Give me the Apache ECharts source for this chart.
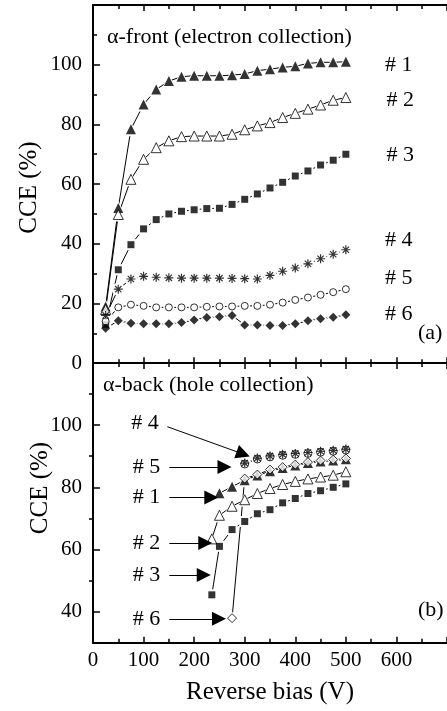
<!DOCTYPE html>
<html>
<head>
<meta charset="utf-8">
<script src="https://cdn.jsdelivr.net/npm/echarts@6/dist/echarts.min.js"></script>
<style>
html,body{margin:0;padding:0;background:#fff}
#main{width:447px;height:711px}
</style>
</head>
<body>
<div id="main"></div>
<script>
// (a) alpha-front, reverse bias (V) vs CCE (%)
var biasFront = [25, 50, 75, 100, 125, 150, 175, 200, 225, 250, 275, 300, 325, 350, 375, 400, 425, 450, 475, 500];
var front1 = [19, 52, 78.4, 86.7, 91.7, 94.5, 96.0, 96.3, 96.3, 96.3, 96.5, 96.9, 98.0, 98.5, 99.1, 99.5, 100.4, 100.8, 100.8, 101.0];
var front2 = [18, 49.8, 61.6, 68.3, 72.2, 74.5, 75.9, 76.1, 76.1, 76.1, 76.7, 78.2, 79.5, 80.6, 82.3, 83.7, 85.1, 86.5, 88.1, 89.0];
var front3 = [13, 31.3, 39.7, 45.0, 48.1, 50.0, 50.9, 51.4, 51.8, 51.9, 53.2, 54.9, 56.7, 58.7, 60.6, 62.7, 64.4, 66.4, 68.0, 70.0];
var front4 = [16, 24.8, 28.2, 29.1, 28.8, 28.6, 28.5, 28.5, 28.5, 28.5, 28.4, 28.3, 28.2, 29.4, 30.8, 31.9, 33.3, 35.0, 36.5, 38.0];
var front5 = [14, 18.7, 19.6, 19.2, 18.7, 18.7, 18.7, 18.7, 18.9, 19.0, 19.0, 19.2, 19.2, 19.6, 20.3, 21.2, 22.0, 22.9, 23.8, 24.8];
var front6 = [11.7, 14.2, 13.4, 13.2, 13.2, 13.2, 13.6, 14.5, 15.3, 15.6, 16.0, 12.8, 12.8, 12.6, 12.6, 13.2, 14.2, 14.9, 15.4, 16.2];

// (b) alpha-back
var biasBack1 = [250, 275, 300, 325, 350, 375, 400, 425, 450, 475, 500];
var back1 = [78.1, 80.2, 82.3, 83.8, 85.2, 86.2, 87.0, 87.8, 88.3, 88.6, 89.0];
var biasBack23 = [235, 250, 275, 300, 325, 350, 375, 400, 425, 450, 475, 500];
var back2 = [63.4, 71.0, 73.9, 76.0, 78.0, 79.6, 80.9, 81.9, 82.7, 83.3, 83.9, 85.0];
var back3 = [45.4, 61.0, 66.4, 69.0, 71.5, 72.8, 75.0, 76.4, 78.0, 78.9, 80.0, 81.1];
var biasBack45 = [300, 325, 350, 375, 400, 425, 450, 475, 500];
var back4 = [87.8, 89.4, 90.1, 90.6, 90.9, 91.2, 91.6, 91.9, 92.3];
var back5 = [87.5, 89.1, 89.8, 90.3, 90.6, 90.9, 91.3, 91.6, 92.0];
var biasBack6 = [275, 300, 325, 350, 375, 400, 425, 450, 475, 500];
var back6 = [37.9, 82.8, 84.1, 85.7, 86.5, 87.3, 88.1, 88.6, 88.9, 89.3];

// tick labels
var yMajorBack = [40, 60, 80, 100, 120];
var yLabelsBack = [40, 60, 80, 100];
var yMinorBack = [50, 70, 90, 110];

// arrows in (b): [label, start bias, start cce, end bias, end cce]
var backArrows = [
  ['# 4', 147, 99.5, 297, 90.7],
  ['# 5', 151, 86.5, 260, 86.5],
  ['# 1', 151, 76.7, 234, 76.7],
  ['# 2', 151, 62.1, 222, 62.1],
  ['# 3', 151, 51.8, 219, 51.8],
  ['# 6', 151, 37.7, 249, 37.7]
];

var FONT = 'Liberation Serif';
var STAR = 'path://M5,0L5,10M0,5L10,5M1.5,1.5L8.5,8.5M1.5,8.5L8.5,1.5';

function pts(xs, ys) {
  return xs.map(function (x, i) { return [x, ys[i]]; });
}

var filled = { color: '#000' };
var open = { color: '#fff', borderColor: '#000', borderWidth: 1 };
var star = { color: '#000', borderColor: '#000', borderWidth: 1.2 };

// one curve = a line with white halos (gap at markers) + the markers on top
function curve(xs, ys, grid, symbol, size, style) {
  var data = pts(xs, ys);
  return [{
    type: 'line', xAxisIndex: grid * 2, yAxisIndex: grid, data: data,
    symbol: symbol === STAR ? 'circle' : symbol, symbolSize: size + 4, showSymbol: true,
    itemStyle: { color: '#fff', borderWidth: 0 },
    lineStyle: { color: '#000', width: 1 },
    z: 2, silent: true
  }, {
    type: 'scatter', xAxisIndex: grid * 2, yAxisIndex: grid, data: data,
    symbol: symbol, symbolSize: size, itemStyle: style, z: 3, silent: true
  }];
}

var xBase = {
  type: 'value', min: 0, max: 700, interval: 100,
  axisLine: { lineStyle: { color: '#000', width: 2 } },
  axisTick: { inside: true, length: 6, lineStyle: { color: '#000', width: 1.5 } },
  minorTick: { show: true, splitNumber: 2, length: 4, lineStyle: { color: '#000', width: 1.5 } },
  splitLine: { show: false },
  axisLabel: { show: false }
};
function xAxis(grid, pos, labels) {
  var a = echarts.util.clone(xBase);
  a.gridIndex = grid;
  a.position = pos;
  if (labels) {
    a.axisLabel = { show: true, color: '#000', fontFamily: FONT, fontSize: 21, margin: 7, showMaxLabel: false };
    a.name = 'Reverse bias (V)';
    a.nameLocation = 'middle';
    a.nameGap = 37;
    a.nameTextStyle = { color: '#000', fontFamily: FONT, fontSize: 25 };
  }
  return a;
}

var series = [];
series = series.concat(
  curve(biasFront, front1, 0, 'triangle', 10, filled),
  curve(biasFront, front2, 0, 'triangle', 10, open),
  curve(biasFront, front3, 0, 'rect', 7, filled),
  curve(biasFront, front4, 0, STAR, 9, star),
  curve(biasFront, front5, 0, 'circle', 7, open),
  curve(biasFront, front6, 0, 'diamond', 9, filled),
  curve(biasBack1, back1, 1, 'triangle', 10, filled),
  curve(biasBack23, back2, 1, 'triangle', 10, open),
  curve(biasBack23, back3, 1, 'rect', 7, filled),
  curve(biasBack45, back5, 1, 'circle', 8, open),
  curve(biasBack45, back4, 1, STAR, 9, star),
  curve(biasBack6, back6, 1, 'diamond', 9, open)
);

series.push({
  type: 'line', xAxisIndex: 2, yAxisIndex: 1, data: [], silent: true,
  markLine: {
    silent: true, animation: false,
    symbol: ['none', 'path://M0,17L10,17L5,0Z'],
    symbolSize: 14,
    lineStyle: { color: '#000', width: 1, type: 'solid' },
    label: { show: true, position: 'start', formatter: '{b}', color: '#000', fontFamily: FONT, fontSize: 22, distance: 9 },
    emphasis: { disabled: true },
    data: backArrows.map(function (a) {
      return [{ name: a[0], coord: [a[1], a[2]] }, { coord: [a[3], a[4]] }];
    })
  }
});

var labelStyle = { fill: '#000', font: '22px "Liberation Serif"', align: 'left', verticalAlign: 'middle' };
function txt(s, x, y, extra) {
  var st = Object.assign({}, labelStyle, { text: s }, extra || {});
  return { type: 'text', x: x, y: y, silent: true, style: st };
}

var option = {
  animation: false,
  backgroundColor: '#fff',
  grid: [
    { left: 93, top: 5, width: 385, height: 358.2 },
    { left: 93, top: 363, width: 385, height: 279.7 }
  ],
  xAxis: [
    xAxis(0, 'bottom', false),
    xAxis(0, 'top', false),
    xAxis(1, 'bottom', true),
    xAxis(1, 'top', false)
  ],
  yAxis: [{
    type: 'value', gridIndex: 0, min: 0, max: 120, interval: 20,
    axisLine: { show: true, lineStyle: { color: '#000', width: 2 } },
    axisTick: { show: true, inside: true, length: 7, lineStyle: { color: '#000', width: 1.5 } },
    minorTick: { show: true, splitNumber: 2, length: 4, lineStyle: { color: '#000', width: 1.5 } },
    splitLine: { show: false },
    axisLabel: { color: '#000', fontFamily: FONT, fontSize: 21, margin: 11, showMaxLabel: false }
  }, {
    type: 'value', gridIndex: 1, min: 30, max: 120,
    axisLine: { show: true, lineStyle: { color: '#000', width: 2 } },
    axisTick: { show: true, inside: true, length: 7, customValues: yMajorBack, lineStyle: { color: '#000', width: 1.5 } },
    splitLine: { show: false },
    axisLabel: { color: '#000', fontFamily: FONT, fontSize: 21, margin: 11, customValues: yLabelsBack }
  }, {
    type: 'value', gridIndex: 1, min: 30, max: 120,
    axisLine: { show: false },
    axisTick: { show: true, inside: true, length: 4, customValues: yMinorBack, lineStyle: { color: '#000', width: 1.5 } },
    splitLine: { show: false },
    axisLabel: { show: false, customValues: yMinorBack }
  }],
  graphic: [
    txt('\u03b1-front (electron collection)', 107, 37),
    txt('\u03b1-back (hole collection)', 103, 385.5),
    txt('# 1', 385, 65.5),
    txt('# 2', 386.5, 100),
    txt('# 3', 386.5, 155.5),
    txt('# 4', 385, 240),
    txt('# 5', 385, 278.5),
    txt('# 6', 385, 314),
    txt('(a)', 418, 333),
    txt('(b)', 418, 610.5),
    { type: 'text', x: 29, y: 187.5, rotation: Math.PI / 2, silent: true,
      style: { text: 'CCE (%)', fill: '#000', font: '25px "Liberation Serif"', align: 'center', verticalAlign: 'middle' } },
    { type: 'text', x: 40, y: 488, rotation: Math.PI / 2, silent: true,
      style: { text: 'CCE (%)', fill: '#000', font: '25px "Liberation Serif"', align: 'center', verticalAlign: 'middle' } }
  ],
  series: series
};

var myChart = echarts.init(document.getElementById('main'));
myChart.setOption(option);
window.addEventListener('resize', function () {
  myChart.resize();
});
</script>
</body>
</html>
